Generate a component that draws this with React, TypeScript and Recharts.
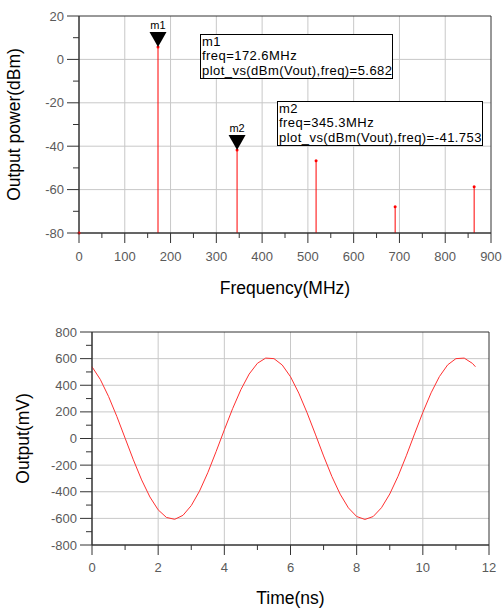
import React from "react";
import {
  ComposedChart,
  LineChart,
  Line,
  Scatter,
  XAxis,
  YAxis,
  CartesianGrid,
  ReferenceLine,
  ReferenceArea,
} from "recharts";

// spectrum (top plot)
const spectrumFreqs = [0, 172.6, 345.3, 517.9, 690.6, 863.2];
const spectrumPower = [-80, 5.682, -41.753, -46.7, -67.9, -58.7];
const markerNames = ["m1", "m2"];
const markerFreqs = [172.6, 345.3];
const markerPower = [5.682, -41.753];
const freqTicks = [0, 50, 100, 150, 200, 250, 300, 350, 400, 450, 500, 550, 600, 650, 700, 750, 800, 850, 900];
const powerTicks = [-80, -70, -60, -50, -40, -30, -20, -10, 0, 10, 20];

// time domain (bottom plot)
const timeValues = [
  0, 0.25, 0.5, 0.75, 1, 1.25, 1.5, 1.75, 2, 2.25, 2.5, 2.75, 3, 3.25, 3.5, 3.75,
  4, 4.25, 4.5, 4.75, 5, 5.25, 5.5, 5.75, 6, 6.25, 6.5, 6.75, 7, 7.25, 7.5, 7.75,
  8, 8.25, 8.5, 8.75, 9, 9.25, 9.5, 9.75, 10, 10.25, 10.5, 10.75, 11, 11.25, 11.5, 11.59,
];
const outputValues = [
  539, 444, 316, 166, 3, -160, -311, -439, -536, -593, -607, -577, -504, -395, -257, -99,
  65, 224, 367, 484, 565, 604, 600, 552, 464, 341, 194, 33, -131, -285, -418, -521,
  -586, -608, -586, -520, -417, -284, -130, 35, 196, 343, 465, 553, 600, 604, 564, 539,
];
const timeTicks = [0, 1, 2, 3, 4, 5, 6, 7, 8, 9, 10, 11, 12];
const outputTicks = [-800, -700, -600, -500, -400, -300, -200, -100, 0, 100, 200, 300, 400, 500, 600, 700, 800];

const FONT = "'Liberation Sans', Arial, sans-serif";
const AXIS = "#333";
const GRID = "#c8c8c8";
const LABEL = "#5a5a5a";

const spectrum = spectrumFreqs.map((f, i) => ({ freq: f, power: spectrumPower[i] }));
const markers = markerFreqs.map((f, i) => ({ freq: f, power: markerPower[i], name: markerNames[i] }));
const wave = timeValues.map((t, i) => ({ t, v: outputValues[i] }));

const makeXTick = (isMajor: (v: number) => boolean, labelDy: number) => (props: any) => {
  const { x, y, payload } = props;
  const major = isMajor(payload.value);
  return (
    <g>
      <line x1={x} y1={y} x2={x} y2={y + (major ? 10 : 5)} stroke={AXIS} />
      {major && (
        <text x={x} y={y + labelDy} textAnchor="middle" dominantBaseline="central" fill={LABEL} fontSize={13} fontFamily={FONT}>
          {payload.value}
        </text>
      )}
    </g>
  );
};

const makeYTick = (isMajor: (v: number) => boolean) => (props: any) => {
  const { x, y, payload } = props;
  const major = isMajor(payload.value);
  return (
    <g>
      <line x1={x} y1={y} x2={x - (major ? 12 : 6)} y2={y} stroke={AXIS} />
      {major && (
        <text x={x - 15} y={y} textAnchor="end" dominantBaseline="central" fill={LABEL} fontSize={13} fontFamily={FONT}>
          {payload.value}
        </text>
      )}
    </g>
  );
};

const yTitle = (text: string, bx: number) => (props: any) => {
  const vb = props.viewBox;
  const cy = vb.y + vb.height / 2;
  return (
    <text x={bx} y={cy} transform={`rotate(-90, ${bx}, ${cy})`} textAnchor="middle" fill="#000" fontSize={17.5} fontFamily={FONT}>
      {text}
    </text>
  );
};

const StemDot = (props: any) => {
  const { cx, cy } = props;
  return <circle cx={cx} cy={cy} r={1.5} fill="#ff0000" />;
};

const MarkerShape = (props: any) => {
  const { cx, cy, payload } = props;
  return (
    <g>
      <polygon points={`${cx},${cy} ${cx - 8.5},${cy - 15} ${cx + 8.5},${cy - 15}`} fill="#000" />
      <text x={cx} y={cy - 18} textAnchor="middle" fontSize={11} fontFamily={FONT} fill="#000">
        {payload.name}
      </text>
    </g>
  );
};

// marker readout boxes
const boxStyle: React.CSSProperties = {
  position: "absolute",
  boxSizing: "border-box",
  border: "1px solid #000",
  background: "#fff",
  fontFamily: FONT,
  fontSize: 13,
  lineHeight: "14.4px",
  letterSpacing: "0.45px",
  padding: "0 0 0 1px",
  whiteSpace: "nowrap",
  color: "#000",
};

export default function App() {
  return (
    <div style={{ position: "absolute", left: 0, top: 0, width: 503, height: 608, background: "#fff" }}>
      <div style={{ position: "absolute", left: 0, top: 0 }}>
        <ComposedChart width={503} height={300} data={spectrum} margin={{ top: 16, right: 12, bottom: 0, left: 0 }}>
          <CartesianGrid stroke={GRID} verticalValues={[100, 200, 300, 400, 500, 600, 700, 800]} horizontalValues={[0, -20, -40, -60]} />
          <ReferenceArea x1={0} x2={900} y1={-80} y2={20} fill="none" stroke={AXIS} />
          <XAxis
            dataKey="freq"
            type="number"
            domain={[0, 900]}
            ticks={freqTicks}
            interval={0}
            height={67}
            stroke={AXIS}
            tickLine={false}
            tickSize={0}
            tickMargin={0}
            tick={makeXTick((v) => v % 100 === 0, 23)}
            label={{ value: "Frequency(MHz)", position: "insideBottom", offset: 6, fill: "#000", fontSize: 17.5, fontFamily: FONT }}
          />
          <YAxis
            type="number"
            domain={[-80, 20]}
            ticks={powerTicks}
            interval={0}
            width={79}
            stroke={AXIS}
            tickLine={false}
            tickSize={0}
            tickMargin={0}
            tick={makeYTick((v) => v % 20 === 0)}
            label={yTitle("Output power(dBm)", 20)}
          />
          {spectrum.map((s) => (
            <ReferenceLine
              key={s.freq}
              segment={[
                { x: s.freq, y: -80 },
                { x: s.freq, y: s.power },
              ]}
              stroke="#ff0000"
              strokeWidth={1}
            />
          ))}
          <Scatter data={spectrum} dataKey="power" shape={StemDot} isAnimationActive={false} />
          <Scatter data={markers} dataKey="power" shape={MarkerShape} isAnimationActive={false} />
        </ComposedChart>
      </div>
      <div style={{ ...boxStyle, left: 200, top: 34, width: 193, height: 45 }}>
        <div>m1</div>
        <div>freq=172.6MHz</div>
        <div>plot_vs(dBm(Vout),freq)=5.682</div>
      </div>
      <div style={{ ...boxStyle, left: 277, top: 101, width: 206, height: 45 }}>
        <div>m2</div>
        <div>freq=345.3MHz</div>
        <div>plot_vs(dBm(Vout),freq)=-41.753</div>
      </div>
      <div style={{ position: "absolute", left: 0, top: 300 }}>
        <LineChart width={503} height={308} data={wave} margin={{ top: 32, right: 14, bottom: 0, left: 0 }}>
          <CartesianGrid stroke={GRID} verticalValues={[2, 4, 6, 8, 10]} horizontalValues={[-600, -400, -200, 0, 200, 400, 600]} />
          <ReferenceArea x1={0} x2={12} y1={-800} y2={800} fill="none" stroke={AXIS} />
          <XAxis
            dataKey="t"
            type="number"
            domain={[0, 12]}
            ticks={timeTicks}
            interval={0}
            height={63}
            stroke={AXIS}
            tickLine={false}
            tickSize={0}
            tickMargin={0}
            tick={makeXTick((v) => v % 2 === 0, 22)}
            label={{ value: "Time(ns)", position: "insideBottom", offset: 4, fill: "#000", fontSize: 17.5, fontFamily: FONT }}
          />
          <YAxis
            type="number"
            domain={[-800, 800]}
            ticks={outputTicks}
            interval={0}
            width={92}
            stroke={AXIS}
            tickLine={false}
            tickSize={0}
            tickMargin={0}
            tick={makeYTick((v) => v % 200 === 0)}
            label={yTitle("Output(mV)", 29)}
          />
          <Line type="linear" dataKey="v" stroke="#ff3030" strokeWidth={1} dot={false} isAnimationActive={false} />
        </LineChart>
      </div>
    </div>
  );
}
